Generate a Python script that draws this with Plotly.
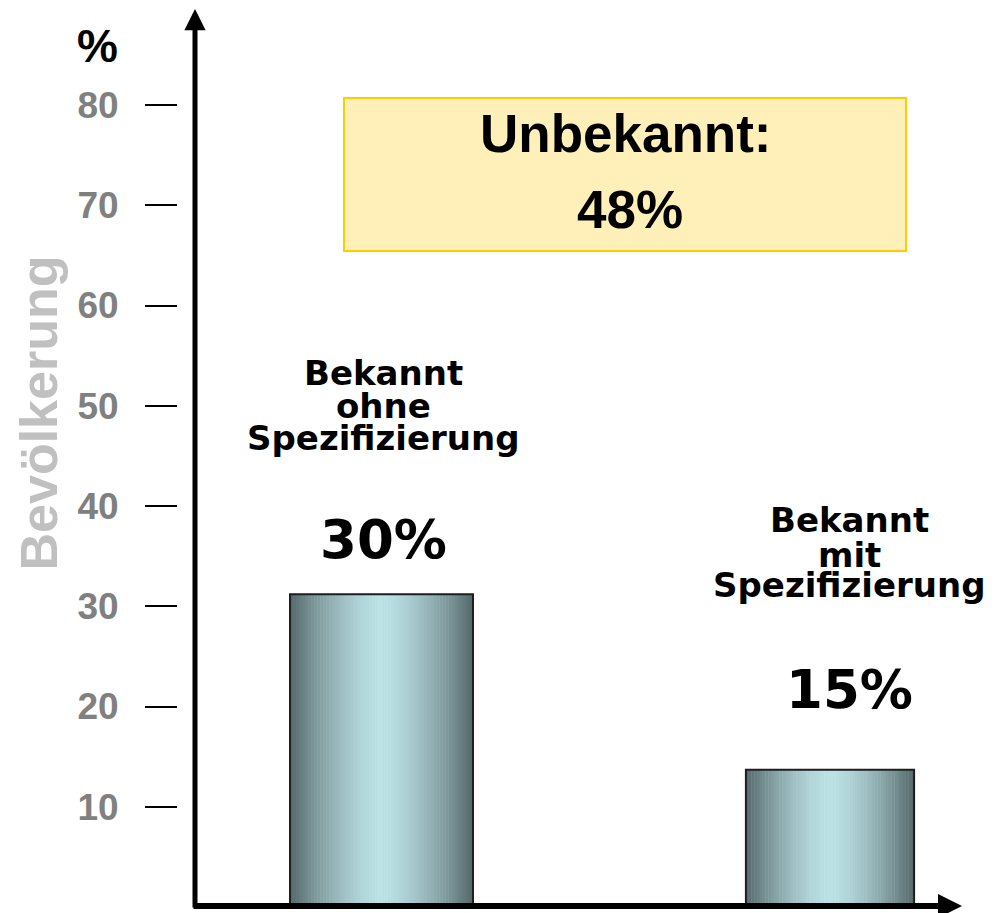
import plotly.graph_objects as go

# Data
bar_labels = [["Bekannt", "ohne", "Spezifizierung"],
              ["Bekannt", "mit", "Spezifizierung"]]
bar_shares = [30, 15]          # printed value above each bar
bar_heights = [31.2, 13.7]     # bar height as drawn
unknown_title = "Unbekannt:"
unknown_share = 48
y_ticks = [10, 20, 30, 40, 50, 60, 70, 80]
y_title = "Bevölkerung"
y_unit = "%"

# Page / plot geometry (the page body adds an 8px margin)
OFF = 8
W, H = 996 - OFF, 913 - OFF
L, R, T, B = 170, 34, 1, 6
plot_w = W - L - R
plot_h = H - T - B


def px(x):
    # window pixel -> paper x
    return (x - OFF - L) / plot_w


def py(y):
    # window pixel -> paper y
    return (H - B - (y - OFF)) / plot_h


bar_x = [0, 1]
bar_w = [0.408, 0.375]
x_range = [-0.4537, 1.2943]
y_range = [0, 89.58]

# metallic gradient for the bars
dark = (84, 104, 106)
light = (187, 225, 229)
n_strips = 60


def shade(u):
    t = abs(u - 0.5) * 2
    s = t ** 1.5
    return "rgb(%d,%d,%d)" % tuple(round(l + (d - l) * s) for l, d in zip(light, dark))


fig = go.Figure()

for i in range(len(bar_x)):
    step = bar_w[i] / n_strips
    xs = [bar_x[i] - bar_w[i] / 2 + (k + 0.5) * step for k in range(n_strips)]
    fig.add_trace(go.Bar(
        x=xs,
        y=[bar_heights[i]] * n_strips,
        width=[step * 1.15] * n_strips,
        marker=dict(color=[shade((k + 0.5) / n_strips) for k in range(n_strips)],
                    line=dict(width=0)),
        hoverinfo="skip",
        showlegend=False,
    ))

# bar outlines
fig.add_trace(go.Bar(
    x=bar_x, y=bar_heights, width=bar_w,
    marker=dict(color="rgba(0,0,0,0)", line=dict(color="#1e1e1e", width=2)),
    hoverinfo="skip", showlegend=False,
))

label_font = dict(family="DejaVu Sans", size=34, color="black", weight="bold")
pct_font = dict(family="DejaVu Sans", size=53, color="black", weight="bold")
line_shifts = [[221, 188, 156], [250, 215, 185]]
pct_shifts = [55, 80]
x_shifts = [2.5, 19]

annotations = []
for i in range(len(bar_x)):
    for line, shift in zip(bar_labels[i], line_shifts[i]):
        annotations.append(dict(
            x=bar_x[i], y=bar_heights[i], xref="x", yref="y",
            text=line, showarrow=False, xanchor="center", yanchor="middle",
            xshift=x_shifts[i], yshift=shift, font=label_font))
    annotations.append(dict(
        x=bar_x[i], y=bar_heights[i], xref="x", yref="y",
        text=f"{bar_shares[i]}%", showarrow=False, xanchor="center", yanchor="middle",
        xshift=x_shifts[i], yshift=pct_shifts[i], font=pct_font))

# axis arrows
annotations.append(dict(
    x=px(195), y=py(9), xref="paper", yref="paper", text="",
    showarrow=True, arrowhead=2, arrowsize=0.85, arrowwidth=5, arrowcolor="black",
    ax=0, ay=900, standoff=0))
annotations.append(dict(
    x=px(962), y=py(906), xref="paper", yref="paper", text="",
    showarrow=True, arrowhead=2, arrowsize=0.8, arrowwidth=6, arrowcolor="black",
    ax=-770, ay=0, standoff=0))

# unknown share box text
big_font = dict(family="Liberation Sans", size=53, color="black", weight="bold")
annotations.append(dict(x=px(626), y=py(133.5), xref="paper", yref="paper",
                        text=unknown_title, showarrow=False, font=big_font,
                        xanchor="center", yanchor="middle"))
annotations.append(dict(x=px(630), y=py(209.5), xref="paper", yref="paper",
                        text=f"{unknown_share}%", showarrow=False, font=big_font,
                        xanchor="center", yanchor="middle"))

# axis title and unit
annotations.append(dict(x=px(38), y=py(413.5), xref="paper", yref="paper",
                        text=y_title, textangle=-90, showarrow=False,
                        xanchor="center", yanchor="middle",
                        font=dict(family="Liberation Sans", size=52,
                                  color="#c0c0c0", weight="bold")))
annotations.append(dict(x=px(97), y=py(46), xref="paper", yref="paper",
                        text=y_unit, showarrow=False,
                        xanchor="center", yanchor="middle",
                        font=dict(family="Liberation Sans", size=46,
                                  color="black", weight="bold")))

fig.update_layout(
    width=W, height=H,
    margin=dict(l=L, r=R, t=T, b=B, pad=0),
    paper_bgcolor="white", plot_bgcolor="white",
    barmode="overlay",
    showlegend=False,
    font=dict(family="Liberation Sans"),
    annotations=annotations,
    shapes=[dict(type="rect", xref="paper", yref="paper",
                 x0=px(344), x1=px(906), y0=py(251), y1=py(98),
                 fillcolor="#fff0b9", line=dict(color="#ffcc00", width=2),
                 layer="below")],
    xaxis=dict(range=x_range, visible=False, fixedrange=True),
    yaxis=dict(
        range=y_range, tickvals=y_ticks,
        ticks="outside", ticklen=32, tickwidth=2, tickcolor="black",
        ticklabelstandoff=19,
        tickfont=dict(family="Liberation Sans", size=37, color="#808080", weight="bold"),
        showline=False, showgrid=False, zeroline=False, fixedrange=True,
    ),
)

fig.write_html("out.html")
